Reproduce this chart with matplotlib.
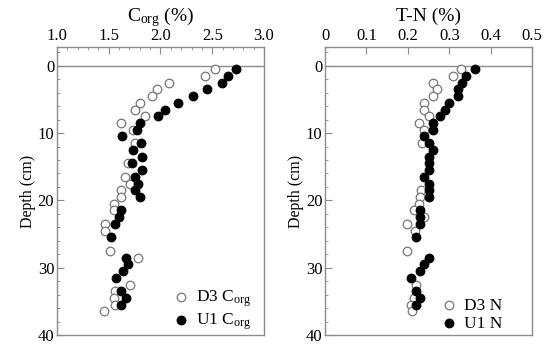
import numpy as np
import matplotlib
matplotlib.use("Agg")
import matplotlib.pyplot as plt
from matplotlib.ticker import MultipleLocator

plt.rcParams["font.family"] = ["Liberation Serif", "DejaVu Serif"]
plt.rcParams["mathtext.fontset"] = "custom"
plt.rcParams["mathtext.rm"] = "Liberation Serif"
plt.rcParams["mathtext.it"] = "Liberation Serif:italic"

# ---- dados ----
d3_c_depth = [0.5, 1.5, 2.5, 3.5, 4.5, 5.5, 6.5, 7.5, 8.5, 9.5, 11.5, 14.5,
              16.5, 17.5, 18.5, 19.5, 20.5, 21.5, 23.5, 24.5, 27.5, 28.5,
              32.5, 33.5, 34.5, 35.5, 36.5]
d3_c = [2.53, 2.43, 2.08, 1.97, 1.92, 1.80, 1.75, 1.85, 1.62, 1.73, 1.75, 1.69,
        1.66, 1.71, 1.62, 1.62, 1.55, 1.55, 1.46, 1.46, 1.51, 1.78,
        1.71, 1.56, 1.55, 1.56, 1.45]

u1_c_depth = [0.5, 1.5, 2.5, 3.5, 4.5, 5.5, 6.5, 7.5, 8.5, 9.5, 10.5, 11.5,
              12.5, 13.5, 14.5, 15.5, 16.5, 17.5, 18.5, 19.5, 21.5, 22.5,
              23.5, 25.5, 28.5, 29.5, 30.5, 31.5, 33.5, 34.5, 35.5]
u1_c = [2.73, 2.65, 2.59, 2.45, 2.31, 2.17, 2.04, 1.98, 1.80, 1.77, 1.63, 1.81,
        1.73, 1.82, 1.72, 1.82, 1.75, 1.78, 1.75, 1.80, 1.62, 1.60,
        1.56, 1.52, 1.67, 1.69, 1.64, 1.57, 1.62, 1.67, 1.62]

d3_n_depth = [0.5, 1.5, 2.5, 3.5, 4.5, 5.5, 6.5, 7.5, 8.5, 9.5, 11.5,
              18.5, 19.5, 20.5, 21.5, 22.5, 23.5, 24.5, 27.5, 32.5, 34.5,
              35.5, 36.5]
d3_n = [0.329, 0.309, 0.260, 0.270, 0.260, 0.240, 0.240, 0.250, 0.228, 0.240, 0.235,
        0.232, 0.229, 0.228, 0.215, 0.238, 0.198, 0.217, 0.197, 0.220, 0.215,
        0.208, 0.209]

u1_n_depth = [0.5, 1.5, 2.5, 3.5, 4.5, 5.5, 6.5, 7.5, 8.5, 9.5, 10.5, 11.5,
              12.5, 13.5, 14.5, 15.5, 16.5, 17.5, 18.5, 19.5, 21.5, 22.5,
              23.5, 25.5, 28.5, 29.5, 30.5, 31.5, 33.5, 34.5, 35.5]
u1_n = [0.361, 0.341, 0.331, 0.321, 0.321, 0.300, 0.289, 0.278, 0.260, 0.260, 0.240, 0.250,
        0.260, 0.250, 0.250, 0.250, 0.240, 0.250, 0.250, 0.250, 0.230, 0.230,
        0.230, 0.219, 0.250, 0.240, 0.230, 0.208, 0.219, 0.230, 0.219]

spine_cor = "#8c8c8c"
tam = 38


def formata_eixo(ax, xlim, xmaj, xmin, xfmt, titulo):
    ax.set_xlim(*xlim)
    ax.set_ylim(40, -2.8)
    ax.axhline(0, color=spine_cor, lw=1.0, zorder=1)
    for s in ax.spines.values():
        s.set_color(spine_cor)
        s.set_linewidth(1.0)
    ax.xaxis.tick_top()
    ax.xaxis.set_label_position("top")
    ax.xaxis.set_major_locator(MultipleLocator(xmaj))
    if xmin:
        ax.xaxis.set_minor_locator(MultipleLocator(xmin))
    ax.xaxis.set_major_formatter(xfmt)
    ax.yaxis.set_major_locator(MultipleLocator(10))
    ax.yaxis.set_minor_locator(MultipleLocator(2))
    ax.tick_params(which="both", direction="in", color=spine_cor,
                   labelsize=12, top=True, bottom=False, left=True, right=False)
    ax.tick_params(which="major", length=5, pad=2)
    ax.tick_params(which="minor", length=2.5)
    ax.set_xlabel(titulo, fontsize=14, labelpad=5)
    ax.set_ylabel("Depth (cm)", fontsize=11.5, labelpad=1)


fig = plt.figure(figsize=(5.5, 3.45), dpi=100)
ax1 = fig.add_axes([0.1036, 0.029, 0.3764, 0.835])
ax2 = fig.add_axes([0.591, 0.029, 0.3764, 0.835])

ax1.scatter(d3_c, d3_c_depth, s=tam, facecolors="white", edgecolors="#777777",
            linewidths=0.9, label=r"D3 C$_{\mathrm{org}}$", zorder=3)
ax1.scatter(u1_c, u1_c_depth, s=tam, facecolors="black", edgecolors="black",
            linewidths=0.9, label=r"U1 C$_{\mathrm{org}}$", zorder=4)
formata_eixo(ax1, (1.0, 3.0), 0.5, 0.1, lambda v, p: f"{v:.1f}",
             r"C$_{\mathrm{org}}$ (%)")

ax2.scatter(d3_n, d3_n_depth, s=tam, facecolors="white", edgecolors="#777777",
            linewidths=0.9, label="D3 N", zorder=3)
ax2.scatter(u1_n, u1_n_depth, s=tam, facecolors="black", edgecolors="black",
            linewidths=0.9, label="U1 N", zorder=4)
formata_eixo(ax2, (0, 0.5), 0.1, None,
             lambda v, p: "0" if abs(v) < 1e-9 else f"{v:.1f}", "T-N (%)")

for ax in (ax1, ax2):
    ax.legend(loc="lower left", bbox_to_anchor=(0.53, 0.0), frameon=False,
              fontsize=12.5, handletextpad=0.3, borderaxespad=0.0,
              labelspacing=0.1, handlelength=1.2, borderpad=0.2)

fig.savefig("out.png", dpi=100)
